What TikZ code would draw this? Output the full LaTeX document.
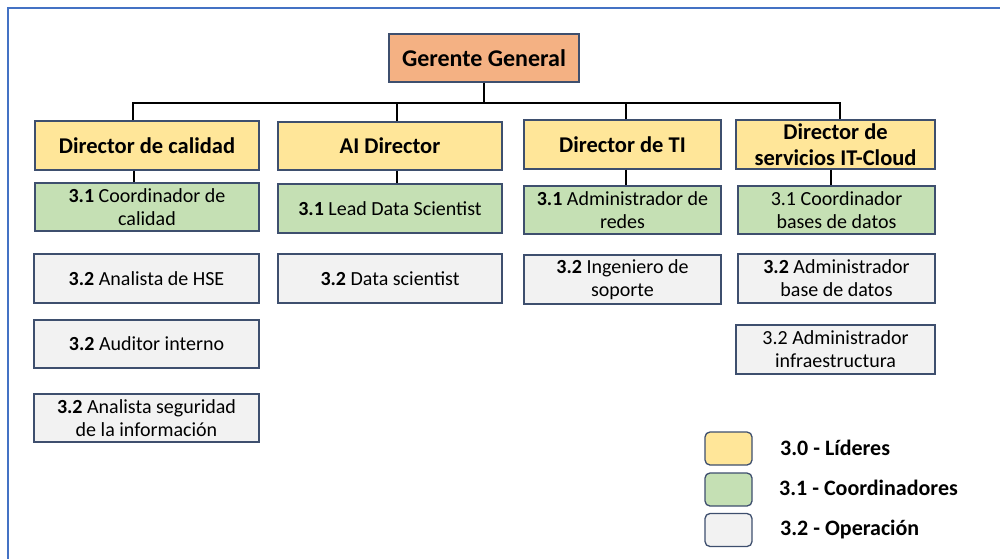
\documentclass[tikz,border=0pt]{standalone}
\usepackage{fontspec}
\setmainfont{Carlito}
\definecolor{framecol}{HTML}{4472C4}
\definecolor{edgecol}{HTML}{3E4F6E}
\definecolor{gmfill}{HTML}{F4B183}
\definecolor{leadfill}{HTML}{FFE699}
\definecolor{coordfill}{HTML}{C5E0B4}
\definecolor{opfill}{HTML}{F2F2F2}
\tikzset{
  box/.style={draw=edgecol, line width=1.3pt, align=center, inner sep=0pt},
  gmbox/.style={box, fill=gmfill, font=\fontsize{24}{26}\selectfont\bfseries},
  leadbox/.style={box, fill=leadfill, font=\fontsize{22.5}{26}\selectfont\bfseries},
  coordbox/.style={box, fill=coordfill, font=\fontsize{20}{23}\selectfont},
  opbox/.style={box, fill=opfill, font=\fontsize{20}{23}\selectfont},
  legbox/.style={draw=edgecol, line width=1.3pt, rounded corners=5pt, minimum width=47pt, minimum height=33pt, inner sep=0pt},
  legtext/.style={anchor=west, font=\fontsize{22}{24}\selectfont\bfseries, inner sep=0pt},
  link/.style={draw=black, line width=2.6pt}
}
\begin{document}
\begin{tikzpicture}[x=1pt,y=-1pt]
\useasboundingbox (0,0) rectangle (1000,558);
% outer frame
\draw[framecol, line width=1.6pt] (8,570) -- (8,8) -- (1010,8);

% top
\node[gmbox, minimum width=190pt, minimum height=48pt] (gg) at (484,58) {Gerente General};

% directors
\node[leadbox, minimum width=224pt, minimum height=49pt] (dc) at (147,145.5) {Director de calidad};
\node[leadbox, minimum width=224pt, minimum height=48pt] (ai) at (390,146) {AI Director};
\node[leadbox, minimum width=197pt, minimum height=49pt] (ti) at (622.5,144.5) {Director de TI};
\node[leadbox, minimum width=199pt, minimum height=49pt] (cl) at (835.5,144.5) {Director de\\servicios IT-Cloud};

% coordinators
\node[coordbox, minimum width=224pt, minimum height=48pt] (c1) at (147,207) {\textbf{3.1} Coordinador de\\calidad};
\node[coordbox, minimum width=224pt, minimum height=49pt] (c2) at (390,208.5) {\textbf{3.1} Lead Data Scientist};
\node[coordbox, minimum width=197pt, minimum height=48pt] (c3) at (622.5,210) {\textbf{3.1} Administrador de\\redes};
\node[coordbox, minimum width=197pt, minimum height=48pt] (c4) at (836.5,210) {3.1 Coordinador\\bases de datos};

% operation staff
\node[opbox, minimum width=225pt, minimum height=49pt] (o1) at (146.5,278.5) {\textbf{3.2} Analista de HSE};
\node[opbox, minimum width=225pt, minimum height=48pt] (o2) at (146.5,344) {\textbf{3.2} Auditor interno};
\node[opbox, minimum width=225pt, minimum height=48pt] (o3) at (146.5,418) {\textbf{3.2} Analista seguridad\\de la información};
\node[opbox, minimum width=224pt, minimum height=49pt] (o4) at (390,278.5) {\textbf{3.2} Data scientist};
\node[opbox, minimum width=197pt, minimum height=49pt] (o5) at (622.5,279.5) {\textbf{3.2} Ingeniero de\\soporte};
\node[opbox, minimum width=197pt, minimum height=49pt] (o6) at (836.5,278.5) {\textbf{3.2} Administrador\\base de datos};
\node[opbox, minimum width=199pt, minimum height=49pt] (o7) at (835.5,349.5) {3.2 Administrador\\infraestructura};

% connectors
\coordinate (bus) at (484,103);
\draw[link] (gg.south) -- (bus);
\draw[link] ([xshift=-14pt]dc.north) |- (bus) -| ([xshift=4.5pt]cl.north);
\draw[link] ([xshift=7pt]ai.north) -- ([xshift=7pt]ai.north |- bus);
\draw[link] ([xshift=3.5pt]ti.north) -- ([xshift=3.5pt]ti.north |- bus);
\draw[link] ([xshift=-13pt]dc.south) -- ([xshift=-13pt]dc.south |- c1.north);
\draw[link] ([xshift=7pt]ai.south) -- ([xshift=7pt]ai.south |- c2.north);
\draw[link] ([xshift=3.5pt]ti.south) -- ([xshift=3.5pt]ti.south |- c3.north);
\draw[link] ([xshift=-4.5pt]cl.south) -- ([xshift=-4.5pt]cl.south |- c4.north);

% legend
\node[legbox, fill=leadfill] (l0) at (728.5,448.5) {};
\node[legbox, fill=coordfill] (l1) at (728.5,489.5) {};
\node[legbox, fill=opfill] (l2) at (728.5,530) {};
\node[legtext] (t0) at (780,448) {3.0 - Líderes};
\node[legtext] (t1) at (779,487.5) {3.1 - Coordinadores};
\node[legtext] (t2) at (780,529) {3.2 - Operación};
\end{tikzpicture}
\end{document}
